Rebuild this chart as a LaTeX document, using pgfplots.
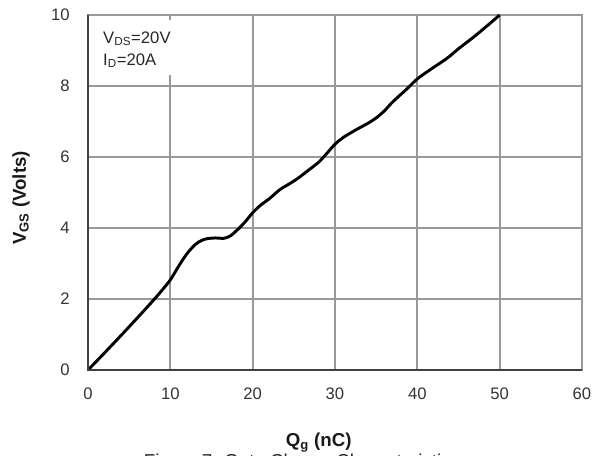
\documentclass[border=0pt]{standalone}
\usepackage{fontspec}
\setmainfont{Liberation Sans}
\usepackage{pgfplots}
\pgfplotsset{compat=1.18}
\begin{document}
\begin{tikzpicture}
\useasboundingbox (-66pt,-63.75pt) rectangle (381pt,277.5pt);
\begin{axis}[
 at={(0,0)}, anchor=south west,
 scale only axis, width=370.5pt, height=266.25pt,
 xmin=0, xmax=60, ymin=0, ymax=10,
 xtick={0,10,...,60}, ytick={0,2,...,10},
 grid=major, major grid style={draw=black!40, line width=1.4pt},
 axis line style={draw=black!40, line width=1.4pt},
 major tick length=0pt,
 /pgf/number format/assume math mode=true,
 tick label style={font=\fontsize{12.5}{14}\selectfont, text=black!80},
 yticklabel style={anchor=east, inner sep=0pt, xshift=-13.5pt},
 xticklabel style={anchor=north, inner sep=0pt, yshift=-13.5pt},
 xlabel={Q\textsubscript{g} (nC)},
 ylabel={V\textsubscript{GS} (Volts)},
 label style={font=\bfseries\fontsize{14}{16}\selectfont, text=black!90},
 xlabel style={at={(axis description cs:0.467,-0.1775)}, anchor=north, inner sep=0pt},
 ylabel style={at={(axis description cs:-0.1356,0.4845)}, anchor=center, inner sep=0pt},
 clip=false,
]
\fill[white] (axis cs:0.5,8.3) rectangle (axis cs:10.6,9.85);
\addplot[black, line width=2.2pt, smooth, tension=0.5] coordinates {
(0,0) (2,0.48) (4,0.97) (6,1.47) (8,1.98) (9,2.25) (10,2.54) (11,2.92) (12,3.27) (13,3.53)
(13.8,3.65) (14.5,3.70) (15.5,3.72) (16.5,3.71) (17.3,3.78) (18.1,3.94) (19,4.15)
(20,4.43) (21,4.65) (22,4.82) (23.3,5.08) (24.5,5.25) (25.5,5.40) (26.5,5.58)
(28,5.85) (29,6.1) (30,6.36) (31,6.55) (32.5,6.76) (34,6.95) (35,7.1) (36,7.3)
(37,7.55) (38.6,7.89) (40,8.2) (41.5,8.45) (43.6,8.78) (45,9.05) (46.9,9.39)
(48.5,9.7) (50,10)
};
\draw[black!75, line width=2pt] (rel axis cs:0,1) -- (rel axis cs:0,0) -- (rel axis cs:1,0);
\node[anchor=base west, inner sep=0pt, font=\fontsize{12.5}{14}\selectfont, text=black!85] at (axis cs:1.82,9.21) {V\textsubscript{DS}=20V};
\node[anchor=base west, inner sep=0pt, font=\fontsize{12.5}{14}\selectfont, text=black!85] at (axis cs:1.82,8.59) {I\textsubscript{D}=20A};
\node[anchor=north, inner sep=0pt, font=\fontsize{14}{16}\selectfont, text=black!85] at (axis description cs:0.433,-0.236) {Figure 7: Gate Charge Characteristics};
\end{axis}
\end{tikzpicture}
\end{document}
